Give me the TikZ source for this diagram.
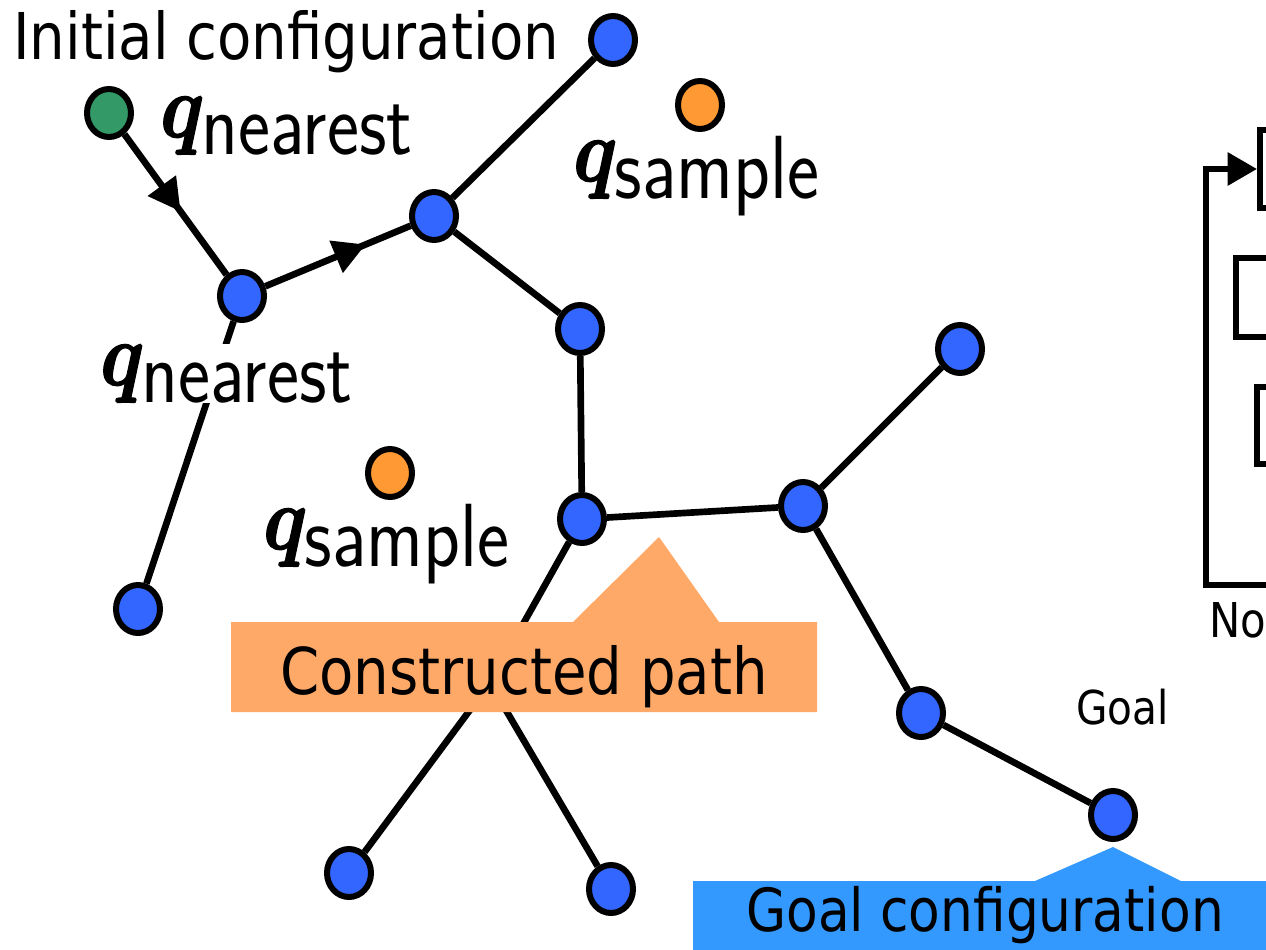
\documentclass[tikz,border=0pt]{standalone}
\usepackage{graphicx}
\usepackage{fontspec}
\setmainfont{DejaVu Sans}[FakeStretch=0.87]
\newfontfamily\lmmath{latinmodern-math.otf}[FakeBold=1.6]
\usetikzlibrary{shapes.geometric,arrows.meta,decorations.markings}

\definecolor{treeblue}{RGB}{51,102,255}
\definecolor{startgreen}{RGB}{51,153,102}
\definecolor{sampleorange}{RGB}{255,153,51}
\definecolor{pathorange}{RGB}{255,169,104}
\definecolor{goalblue}{RGB}{51,153,255}

\newcommand{\qsub}[1]{\fontsize{53pt}{53pt}\selectfont\scalebox{1.08}[1.27]{{\lmmath 𝒒}\raisebox{-0.19em}{\sffamily #1}}}

\begin{document}
\begin{tikzpicture}[x=0.75pt,y=-0.75pt,
  vertex/.style={ellipse,draw,line width=4.5pt,fill=treeblue,minimum width=33pt,minimum height=36pt,inner sep=0pt},
  start/.style={vertex,fill=startgreen},
  sample/.style={vertex,fill=sampleorange},
  edge/.style={line width=5pt},
  midarrow/.style={postaction={decorate},decoration={markings,mark=at position #1 with {\arrow{Triangle[length=24pt,width=25pt]}}}},
  qlabel/.style={anchor=base west,inner sep=0pt},
  txt/.style={anchor=base west,inner sep=0pt,font=\fontsize{#1}{#1}\selectfont},
  stagebox/.style={draw,line width=4.5pt,anchor=west,minimum width=150pt}]

  \useasboundingbox (0,0) rectangle (1266,949);
  \clip (0,0) rectangle (1266,949);

  % Draw tree nodes
  \node[start] (init) at (109,113) {};
  \node[vertex] (a) at (242,296) {};
  \node[vertex] (b) at (434,216) {};
  \node[vertex] (c) at (613,40) {};
  \node[vertex] (d) at (580,329) {};
  \node[vertex] (e) at (582,519) {};
  \node[vertex] (f) at (803,506) {};
  \node[vertex] (g) at (960,349) {};
  \node[vertex] (h) at (921,713) {};
  \node[vertex] (goal) at (1113,815) {};
  \node[vertex] (i) at (138,609) {};
  \node[vertex] (l) at (490,683) {};
  \node[vertex] (j) at (349,873) {};
  \node[vertex] (k) at (611,889) {};

  % Draw sample nodes
  \node[sample] (sa) at (700,105) {};
  \node[sample] (sb) at (390,473) {};

  % Draw tree edges
  \draw[edge,midarrow=0.55] (init) -- (a);
  \draw[edge,midarrow=0.69] (a) -- (b);
  \draw[edge] (a) -- (i);
  \draw[edge] (b) -- (c);
  \draw[edge] (b) -- (d);
  \draw[edge] (d) -- (e);
  \draw[edge] (e) -- (f);
  \draw[edge] (e) -- (l);
  \draw[edge] (l) -- (j);
  \draw[edge] (l) -- (k);
  \draw[edge] (f) -- (g);
  \draw[edge] (f) -- (h);
  \draw[edge] (h) -- (goal);

  % Draw q labels
  \node[qlabel] (qneara) at (160,137) {\qsub{nearest}};
  \node[qlabel,fill=white] (qnearb) at (100,385) {\qsub{nearest}};
  \node[qlabel] (qsampa) at (573,181) {\qsub{sample}};
  \node[qlabel] (qsampb) at (263,549) {\qsub{sample}};

  % Draw path callout
  \fill[pathorange] (231,622) -- (573,622) -- (659,537) -- (719,622) -- (817,622)
    -- (817,712) -- (231,712) -- cycle;
  \node[txt=48.4pt] (pathtext) at (280,694) {Constructed path};

  % Draw goal callout
  \fill[goalblue] (693,881) -- (1035,881) -- (1113,847) -- (1181,881) -- (1290,881)
    -- (1290,960) -- (693,960) -- cycle;
  \node[txt=44.6pt] (goaltext) at (746,931) {Goal configuration};

  % Draw texts
  \node[txt=48.4pt] (inittext) at (13,60) {Initial configuration};
  \node[txt=35pt] (goallabel) at (1076,724) {Goal};
  \node[txt=36pt] (notext) at (1209,637) {No};

  % Draw loop
  \node[stagebox,minimum height=58.5pt] (box1) at (1257,169) {};
  \node[stagebox,minimum height=59pt] (box2) at (1233,297.5) {};
  \node[stagebox,minimum height=58pt] (box3) at (1254,425.5) {};
  \coordinate (back) at (1290,585);
  \draw[line width=4.5pt,-{Triangle[length=22pt,width=24pt]}] (back) -- ++(-84,0) |- (box1.west);

\end{tikzpicture}
\end{document}
